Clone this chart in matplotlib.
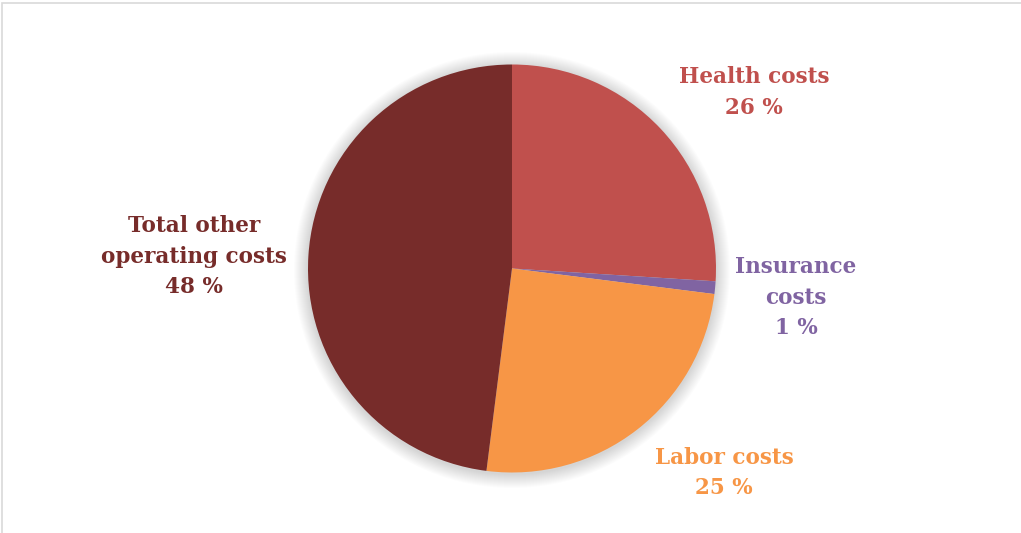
import matplotlib
matplotlib.use("Agg")
import matplotlib.pyplot as plt
from matplotlib.patches import Circle, Rectangle

# Cost breakdown
categories = ["Health costs", "Insurance costs", "Labor costs", "Total other operating costs"]
shares = [26, 1, 25, 48]
colors = ["#C0504D", "#8064A2", "#F79646", "#772C2A"]

# label lines and their positions (pixel space, y measured from the top)
label_lines = [["Health costs"], ["Insurance", "costs"], ["Labor costs"], ["Total other", "operating costs"]]
label_pos = [(754, 77), (796, 267), (724, 458), (194, 226)]
line_step = 30.5

W, H = 1021, 533
fig = plt.figure(figsize=(W / 100, H / 100), dpi=100)
ax = fig.add_axes([0, 0, 1, 1])

cx, cy, r = 512, H - 268.5, 204

# outer frame
ax.add_patch(Rectangle((1.5, -10), W + 20, H - 2.5 + 10, fill=False,
                       edgecolor="#D9D9D9", linewidth=1.2))

# soft shadow around the pie
for k in range(14, 0, -1):
    ax.add_patch(Circle((cx, cy - 1.5), r + k, facecolor="#000000",
                        edgecolor="none", alpha=0.013, zorder=1))

ax.pie(shares, colors=colors, startangle=90, counterclock=False,
       center=(cx, cy), radius=r, frame=True,
       wedgeprops=dict(linewidth=0, zorder=2))
ax.set_xlim(0, W)
ax.set_ylim(0, H)
ax.set_aspect("auto")
ax.axis("off")

for lines, share, col, (lx, ly) in zip(label_lines, shares, colors, label_pos):
    rows = lines + [f"{share} %"]
    for i, txt in enumerate(rows):
        ax.text(lx, H - (ly + i * line_step), txt, ha="center", va="center",
                color=col, fontsize=15.5, fontweight="bold", family="DejaVu Serif",
                zorder=5)

fig.savefig("out.png", dpi=100)
